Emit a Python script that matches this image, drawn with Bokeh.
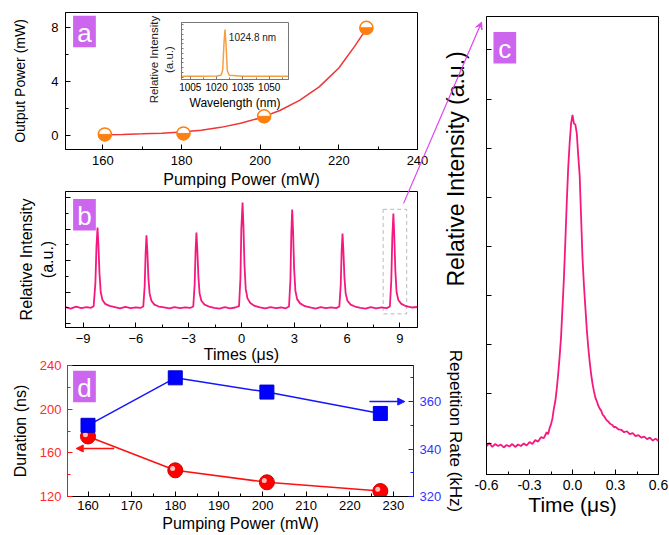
import math
from bokeh.plotting import figure
from bokeh.models import (Range1d, LinearAxis, SingleIntervalTicker, FixedTicker,
                          PrintfTickFormatter, Arrow, NormalHead, VeeHead,
                          BoxAnnotation, ColumnDataSource, Column)
from bokeh.embed import file_html
from bokeh.resources import INLINE
from bokeh.core.properties import value
from bokeh.transform import dodge

FONT = "Liberation Sans"

# ---------------- data ----------------
# (a) output power vs pumping power
a_pump = [160.5, 180.5, 201.0, 227.0]
a_power = [0.08, 0.15, 1.42, 7.98]
a_fit_pump = [160, 165, 170, 175, 180, 185, 190, 195, 200, 205, 210, 215, 220, 224, 227]
a_fit_power = [0.05, 0.08, 0.12, 0.17, 0.25, 0.38, 0.60, 0.90, 1.30, 1.85, 2.60, 3.60, 5.00, 6.60, 7.90]

# (a) inset: spectrum
spec_wl = [1000, 1010, 1020, 1022.5, 1023.5, 1024.2, 1024.8, 1025.4, 1026.1, 1027.2, 1035, 1050, 1061]
spec_int = [0.02, 0.02, 0.025, 0.04, 0.15, 0.70, 1.00, 0.68, 0.14, 0.04, 0.02, 0.02, 0.02]
peak_wl = 1024.8
peak_text = "1024.8 nm"

# (b) pulse train (time in us, relative intensity)
b_trace = [
    (-10.0, 1.05), (-9.7, 0.95), (-9.4, 1.08), (-9.1, 0.98), (-8.8, 1.04), (-8.55, 1.0), (-8.4, 1.1),
    (-8.3, 2.6), (-8.24, 4.9), (-8.18, 6.1), (-8.13, 5.0), (-8.07, 3.2), (-8.0, 2.0), (-7.9, 1.5),
    (-7.75, 1.25), (-7.5, 1.12), (-7.2, 1.05), (-6.9, 0.97), (-6.6, 1.06), (-6.3, 0.98), (-6.0, 1.03),
    (-5.75, 0.99), (-5.58, 1.08), (-5.5, 2.4), (-5.45, 4.4), (-5.40, 5.6), (-5.35, 4.6), (-5.29, 2.9),
    (-5.22, 1.9), (-5.12, 1.45), (-4.95, 1.2), (-4.7, 1.08), (-4.4, 1.02), (-4.1, 0.96), (-3.8, 1.05),
    (-3.5, 0.98), (-3.2, 1.03), (-2.92, 0.99), (-2.74, 1.08), (-2.66, 2.5), (-2.61, 4.6), (-2.56, 5.78),
    (-2.51, 4.7), (-2.45, 3.0), (-2.38, 1.9), (-2.28, 1.45), (-2.1, 1.2), (-1.85, 1.08), (-1.55, 1.0),
    (-1.25, 0.95), (-0.95, 1.04), (-0.65, 0.97), (-0.35, 1.02), (-0.14, 1.1), (-0.06, 2.9), (-0.01, 6.0),
    (0.06, 7.68), (0.11, 6.2), (0.17, 3.7), (0.24, 2.2), (0.34, 1.6), (0.5, 1.3), (0.75, 1.12),
    (1.05, 1.03), (1.35, 0.96), (1.65, 1.04), (1.95, 0.98), (2.25, 1.02), (2.52, 0.97), (2.7, 1.08),
    (2.78, 2.8), (2.83, 5.7), (2.88, 7.24), (2.93, 5.9), (2.99, 3.5), (3.06, 2.1), (3.16, 1.55),
    (3.33, 1.28), (3.6, 1.1), (3.9, 1.02), (4.2, 0.95), (4.5, 1.04), (4.8, 0.98), (5.1, 1.03),
    (5.38, 0.98), (5.56, 1.08), (5.64, 2.5), (5.69, 4.6), (5.74, 5.71), (5.79, 4.6), (5.85, 2.9),
    (5.92, 1.9), (6.02, 1.45), (6.2, 1.2), (6.45, 1.08), (6.75, 1.0), (7.05, 0.95), (7.35, 1.04),
    (7.65, 0.97), (7.95, 1.03), (8.25, 0.98), (8.43, 1.08), (8.51, 2.7), (8.57, 5.5), (8.63, 6.98),
    (8.68, 5.6), (8.74, 3.4), (8.81, 2.0), (8.91, 1.5), (9.08, 1.25), (9.35, 1.1), (9.65, 1.02), (10.0, 1.05),
]
b_time = [t for t, _ in b_trace]
b_int = [v for _, v in b_trace]
b_zoom_window = (8.05, 9.38, 0.62, 7.25)   # left, right, bottom, top of dashed box

# (c) single pulse
c_trace = [
    (-0.60, -0.06), (-0.58, 0.0), (-0.56, -0.08), (-0.54, -0.02), (-0.52, -0.06), (-0.50, -0.03),
    (-0.48, -0.09), (-0.46, -0.04), (-0.44, -0.07), (-0.42, -0.02), (-0.40, -0.08), (-0.38, -0.03),
    (-0.36, -0.06), (-0.34, -0.01), (-0.32, -0.05), (-0.30, 0.02), (-0.28, -0.02), (-0.26, 0.06),
    (-0.24, 0.03), (-0.22, 0.12), (-0.20, 0.10), (-0.18, 0.22), (-0.17, 0.18), (-0.16, 0.30),
    (-0.15, 0.38), (-0.14, 0.50), (-0.13, 0.70), (-0.12, 0.85), (-0.11, 1.10), (-0.10, 1.40),
    (-0.09, 1.75), (-0.08, 2.15), (-0.07, 2.75), (-0.06, 3.35), (-0.05, 4.10), (-0.04, 4.90),
    (-0.03, 5.60), (-0.02, 6.10), (-0.01, 6.50), (0.00, 6.68), (0.01, 6.50), (0.02, 6.48),
    (0.03, 6.30), (0.04, 5.85), (0.05, 5.45), (0.06, 4.60), (0.07, 3.75), (0.08, 3.20), (0.09, 2.75),
    (0.10, 2.30), (0.11, 1.95), (0.12, 1.65), (0.13, 1.40), (0.14, 1.20), (0.15, 1.05), (0.16, 0.92),
    (0.17, 0.85), (0.18, 0.76), (0.19, 0.70), (0.20, 0.66), (0.21, 0.58), (0.22, 0.55), (0.23, 0.50),
    (0.24, 0.46), (0.25, 0.44), (0.26, 0.40), (0.27, 0.38), (0.28, 0.36), (0.29, 0.32), (0.30, 0.33),
    (0.32, 0.28), (0.34, 0.27), (0.36, 0.22), (0.38, 0.24), (0.40, 0.18), (0.42, 0.20), (0.44, 0.14),
    (0.46, 0.16), (0.48, 0.11), (0.50, 0.13), (0.52, 0.08), (0.54, 0.11), (0.56, 0.05), (0.58, 0.09),
    (0.60, 0.04),
]
c_time = [t for t, _ in c_trace]
c_int = [v for _, v in c_trace]
c_xticks = [-0.6, -0.3, 0.0, 0.3, 0.6]

# (d) duration and repetition rate vs pumping power
d_pump = [160, 180, 201, 227]
d_duration = [175, 144, 133, 125]
d_rep = [350, 370, 364, 355]

# ---------------- style ----------------
PINK = "#F5187E"
ORANGE = "#FF7F0E"
RED = "#FF1010"
BLUE = "#1515FF"
VIOLET = "#CC66EE"


def make_fig(left, top, width, height, xr, yr, borders, bg=None):
    p = figure(width=width, height=height, x_range=xr, y_range=yr,
               output_backend="svg", toolbar_location=None,
               min_border_left=borders[0], min_border_right=borders[1],
               min_border_top=borders[2], min_border_bottom=borders[3])
    p.frame_align = False
    if bg is None:
        p.background_fill_alpha = 0
    else:
        p.background_fill_color = bg
    p.border_fill_alpha = 0
    p.outline_line_color = "black"
    p.outline_line_width = 1
    p.grid.visible = False
    p.styles = {"position": "absolute", "left": f"{left}px", "top": f"{top}px"}
    return p


def style_axis(ax, label="", color="black", tick_color="black", tick_font="13px",
               label_font="16px", major_standoff=6, label_standoff=4, tin=5, tmin=3,
               show_labels=True):
    ax.axis_label = label
    ax.axis_line_color = color
    ax.major_tick_line_color = color
    ax.minor_tick_line_color = color
    ax.major_tick_in = tin
    ax.major_tick_out = 0
    ax.minor_tick_in = tmin
    ax.minor_tick_out = 0
    ax.major_label_text_font = FONT
    ax.major_label_text_font_size = tick_font if show_labels else "1px"
    ax.major_label_text_color = tick_color if show_labels else None
    ax.major_label_standoff = major_standoff
    ax.axis_label_text_font = FONT
    ax.axis_label_text_font_style = "normal"
    ax.axis_label_text_font_size = label_font
    ax.axis_label_text_color = "black"
    ax.axis_label_standoff = label_standoff


# ---------------- panel a ----------------
pa = make_fig(8, 8, 425, 185, Range1d(150.5, 240), Range1d(-1.04, 9.11), (57, 16, 4, 44))
pa.xaxis.ticker = SingleIntervalTicker(interval=20, num_minor_ticks=2)
pa.yaxis.ticker = SingleIntervalTicker(interval=4, num_minor_ticks=2)
style_axis(pa.xaxis[0], "Pumping Power (mW)", major_standoff=6, label_standoff=3)
style_axis(pa.yaxis[0], "Output Power (mW)", label_font="14px", major_standoff=7, label_standoff=20)
pa.line(a_fit_pump, a_fit_power, line_color="#F03535", line_width=1.5)
pa.scatter(a_pump, a_power, size=13, fill_color="white", line_color=ORANGE, line_width=1.5)
pa.wedge(a_pump, a_power, radius=6.5, radius_units="screen", start_angle=math.pi,
         end_angle=2 * math.pi, direction="anticlock", fill_color=ORANGE, line_color=ORANGE)

# ---------------- inset ----------------
pin = make_fig(140, 18, 154, 94, Range1d(1000, 1061), Range1d(-0.05, 1.15), (41, 6, 4, 32), bg="white")
pin.outline_line_color = "#777777"
pin.xaxis.ticker = SingleIntervalTicker(interval=15, num_minor_ticks=2)
pin.yaxis.ticker = SingleIntervalTicker(interval=0.1, num_minor_ticks=0)
style_axis(pin.xaxis[0], "Wavelength (nm)", color="#777777", tick_font="10px", label_font="12px",
           major_standoff=3, label_standoff=2, tin=3, tmin=2)
style_axis(pin.yaxis[0], "", color="#777777", major_standoff=0, label_standoff=0,
           tin=2, tmin=1, show_labels=False)
pin.line(spec_wl, spec_int, line_color="#F5A040", line_width=1.5)
pin.text(x=[peak_wl + 2.2], y=[0.84], text=[peak_text], text_font=value(FONT),
         text_font_size="10px", text_baseline="middle", text_align="left", text_color="#222222")

# ---------------- panel b ----------------
pb = make_fig(8, 180, 425, 189, Range1d(-10, 10), Range1d(-0.25, 8.38), (57, 16, 11, 42))
pb.xaxis.ticker = SingleIntervalTicker(interval=3, num_minor_ticks=2)
pb.yaxis.ticker = SingleIntervalTicker(interval=2, num_minor_ticks=2)
style_axis(pb.xaxis[0], "Times (\u03bcs)", major_standoff=6, label_standoff=0)
style_axis(pb.yaxis[0], "Relative Intensity\n(a.u.)", major_standoff=0, label_standoff=10,
           show_labels=False)
pb.line(b_time, b_int, line_color=PINK, line_width=1.8)
pb.add_layout(BoxAnnotation(left=b_zoom_window[0], right=b_zoom_window[1],
                            bottom=b_zoom_window[2], top=b_zoom_window[3],
                            fill_alpha=0, line_color="#444444", line_width=1.2, line_dash="4 3"))

# ---------------- panel d ----------------
pd_ = make_fig(8, 328, 460, 207, Range1d(155.3, 234.6), Range1d(120, 240), (57, 54, 37, 39))
pd_.extra_y_ranges = {"rep": Range1d(320, 375.2)}
pd_.xaxis.ticker = SingleIntervalTicker(interval=10, num_minor_ticks=2)
pd_.yaxis.ticker = SingleIntervalTicker(interval=40, num_minor_ticks=2)
style_axis(pd_.xaxis[0], "Pumping Power (mW)", major_standoff=4, label_standoff=2)
style_axis(pd_.yaxis[0], "Duration (ns)", color=RED, tick_color="#FF2A2A", major_standoff=6, label_standoff=8)
rax = LinearAxis(y_range_name="rep", ticker=SingleIntervalTicker(interval=20, num_minor_ticks=2))
style_axis(rax, "Repetition Rate (kHz)", color=BLUE, tick_color="#3535FF", label_font="17px",
           major_standoff=6, label_standoff=2)
pd_.add_layout(rax, "right")
pd_.line(d_pump, d_duration, line_color=RED, line_width=1.5)
pd_.line(d_pump, d_rep, line_color=BLUE, line_width=1.5, y_range_name="rep")
dsrc = ColumnDataSource(dict(x=d_pump, dur=d_duration, rep=d_rep))
pd_.scatter("x", "dur", source=dsrc, size=15, fill_color="#FF0000", line_color="#D00000")
pd_.scatter(dodge("x", -0.6), dodge("dur", 1.6), source=dsrc, size=5, fill_color="white",
            fill_alpha=0.75, line_color=None)
pd_.scatter("x", "rep", source=dsrc, marker="square", size=14, fill_color="#0000FF",
            line_color="#0000CC", y_range_name="rep")
pd_.add_layout(Arrow(end=NormalHead(size=7, fill_color=RED, line_color=RED),
                     x_start=166.0, y_start=164, x_end=157.3, y_end=164,
                     line_color=RED, line_width=1.5))
pd_.add_layout(Arrow(end=NormalHead(size=7, fill_color=BLUE, line_color=BLUE),
                     x_start=224.5, y_start=360, x_end=232.6, y_end=360,
                     line_color=BLUE, line_width=1.5, y_range_name="rep"))

# ---------------- panel c ----------------
pc = make_fig(470, 8, 199, 527, Range1d(-0.6, 0.6), Range1d(-0.64, 8.68), (16, 11, 8, 53))
pc.xaxis.ticker = FixedTicker(ticks=c_xticks, minor_ticks=[-0.45, -0.15, 0.15, 0.45])
pc.xaxis.formatter = PrintfTickFormatter(format="%.1f")
pc.yaxis.ticker = SingleIntervalTicker(interval=1, num_minor_ticks=0)
style_axis(pc.xaxis[0], "Time (\u03bcs)", tick_font="14px", label_font="21px", major_standoff=5, label_standoff=0)
style_axis(pc.yaxis[0], "", major_standoff=0, label_standoff=0, show_labels=False)
pc.line(c_time, c_int, line_color=PINK, line_width=1.8)

# ---------------- overlay (panel tags, zoom arrow, free-standing labels) ----------------
ov = figure(width=661, height=527, x_range=Range1d(0, 661), y_range=Range1d(527, 0),
            x_axis_type=None, y_axis_type=None, output_backend="svg", toolbar_location=None,
            min_border=0)
ov.frame_align = False
ov.background_fill_alpha = 0
ov.border_fill_alpha = 0
ov.outline_line_color = None
ov.grid.visible = False
ov.styles = {"position": "absolute", "left": "0px", "top": "0px"}

tags = ["a", "b", "c", "d"]
tag_x = [85, 85, 510.5, 85]
tag_y = [31.5, 217.5, 48, 392]
ov.rect(x=tag_x, y=tag_y, width=23, height=32, fill_color=VIOLET, line_color=None)
ov.text(x=tag_x, y=[v + 1 for v in tag_y], text=tags, text_font=value(FONT), text_font_size="26px",
        text_color="white", text_align="center", text_baseline="middle")
ov.add_layout(Arrow(end=VeeHead(size=7, fill_color="#E040F0", line_color="#E040F0"),
                    x_start=408, y_start=206, x_end=487, y_end=22,
                    line_color="#E040F0", line_width=1.2))
# y label of panel c (placed above centre, as in the original)
ov.text(x=[461], y=[171], text=["Relative Intensity (a.u.)"], angle=math.pi / 2,
        text_font=value(FONT), text_font_size="23px", text_color="black",
        text_align="center", text_baseline="middle")
# y label of the inset (longer than the inset frame)
ov.text(x=[155, 171], y=[60, 60], text=["Relative Intensity", "(a.u.)"], angle=math.pi / 2,
        text_font=value(FONT), text_font_size="11.5px", text_color="#222222",
        text_align="center", text_baseline="middle")

root = Column(children=[pa, pin, pb, pd_, pc, ov], width=653, height=519,
              styles={"position": "relative"})

open("out.html", "w").write(file_html(root, INLINE))
